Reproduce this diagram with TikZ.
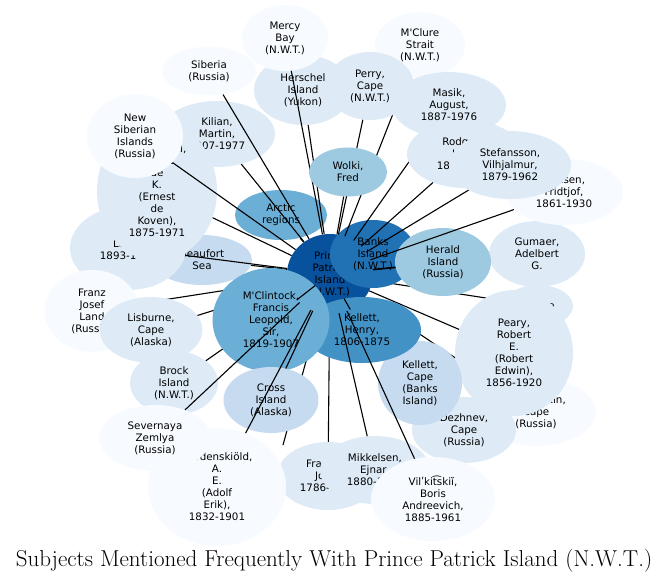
\documentclass[tikz,border=0pt]{standalone}
\usepackage{fontspec}
\usepackage{xcolor}
\usepackage{tikz}
\usetikzlibrary{shapes.geometric}
\newfontfamily\bubfont{DejaVu Sans}
\definecolor{deep}{HTML}{08519C}
\definecolor{strong}{HTML}{2171B5}
\definecolor{mid}{HTML}{4292C6}
\definecolor{soft}{HTML}{6BAED6}
\definecolor{pale}{HTML}{9ECAE1}
\definecolor{faint}{HTML}{C6DBEF}
\definecolor{mist}{HTML}{DEEBF7}
\definecolor{snow}{HTML}{F7FBFF}
\tikzset{
  bub/.style n args={3}{ellipse, inner sep=0pt, align=center, fill=#1,
    minimum width=#2, minimum height=#3, text=black,
    font=\bubfont\fontsize{10.3}{12}\selectfont},
  link/.style={draw=black, line width=1.1pt},
  caption/.style={anchor=base, font=\fontsize{23}{27}\selectfont}
}

\begin{document}
\begin{tikzpicture}[x=1pt, y=-1pt]
  \useasboundingbox (0,0) rectangle (668,582);
  % hub first, then each subject with its link (order gives the overlaps)
  \node[bub={deep}{86pt}{80pt}] (pp) at (330,274) {Prince\\Patrick\\Island\\(N.W.T.)};
  \node[bub={mist}{70pt}{42pt}] (alaska) at (538,306) {Alaska};
  \draw[link] (pp) -- (alaska);
  \node[bub={strong}{86pt}{68pt}] (banks) at (373,254) {Banks\\Island\\(N.W.T.)};
  \node[bub={soft}{92pt}{50pt}] (arctic) at (281,215) {Arctic\\regions};
  \draw[link] (pp) -- (arctic);
  \node[bub={mist}{116pt}{66pt}] (kilian) at (217,134) {Kilian,\\Martin,\\1907-1977};
  \draw[link] (pp) -- (kilian);
  \node[bub={faint}{100pt}{50pt}] (beaufort) at (202,260) {Beaufort\\Sea};
  \draw[link] (pp) -- (beaufort);
  \node[bub={mist}{116pt}{84pt}] (lo) at (128,248) {~\\Lo\phantom{uis,}\\1893-1\phantom{960}};
  \draw[link] (pp) -- (lo);
  \node[bub={mist}{120pt}{140pt}] (leffingwell) at (157,191) {Leffingwell,\\Ernest\\de\\K.\\(Ernest\\de\\Koven),\\1875-1971};
  \draw[link] (pp) -- (leffingwell);
  \node[bub={snow}{96pt}{84pt}] (newsib) at (135,136) {New\\Siberian\\Islands\\(Russia)};
  \draw[link] (pp) -- (newsib);
  \node[bub={snow}{94pt}{49pt}] (siberia) at (209,71) {Siberia\\(Russia)};
  \draw[link] (pp) -- (siberia);
  \node[bub={mist}{98pt}{70pt}] (herschel) at (303,90) {Herschel\\Island\\(Yukon)};
  \draw[link] (pp) -- (herschel);
  \node[bub={snow}{86pt}{66pt}] (mercy) at (285,38) {Mercy\\Bay\\(N.W.T.)};
  \draw[link] (pp) -- (mercy);
  \node[bub={snow}{90pt}{66pt}] (mclure) at (420,45) {M\textquotesingle Clure\\Strait\\(N.W.T.)};
  \draw[link] (pp) -- (mclure);
  \node[bub={mist}{88pt}{68pt}] (perry) at (370,86) {Perry,\\Cape\\(N.W.T.)};
  \draw[link] (pp) -- (perry);
  \node[bub={mist}{114pt}{66pt}] (masik) at (449,105) {Masik,\\August,\\1887-1976};
  \draw[link] (pp) -- (masik);
  \node[bub={pale}{78pt}{49pt}] (wolki) at (348,172) {Wolki,\\Fred};
  \draw[link] (pp) -- (wolki);
  \node[bub={mist}{116pt}{68pt}] (rodgers) at (465,154) {Rodgers,\\John,\\1812-1882};
  \draw[link] (pp) -- (rodgers);
  \node[bub={mist}{96pt}{66pt}] (gumaer) at (537,254) {Gumaer,\\Adelbert\\G.};
  \draw[link] (pp) -- (gumaer);
  \node[bub={pale}{96pt}{68pt}] (herald) at (443,262) {Herald\\Island\\(Russia)};
  \draw[link] (pp) -- (herald);
  \node[bub={snow}{118pt}{66pt}] (nansen) at (564,192) {Nansen,\\Fridtjof,\\1861-1930};
  \draw[link] (pp) -- (nansen);
  \node[bub={mist}{122pt}{68pt}] (stefansson) at (510,165) {Stefansson,\\Vilhjalmur,\\1879-1962};
  \draw[link] (pp) -- (stefansson);
  \node[bub={snow}{120pt}{68pt}] (chelyuskin) at (536,412) {Chelyuskin,\\Cape\\(Russia)};
  \draw[link] (pp) -- (chelyuskin);
  \node[bub={mist}{104pt}{66pt}] (dezhnev) at (464,430) {Dezhnev,\\Cape\\(Russia)};
  \draw[link] (pp) -- (dezhnev);
  \node[bub={mist}{118pt}{126pt}] (peary) at (514,353) {Peary,\\Robert\\E.\\(Robert\\Edwin),\\1856-1920};
  \draw[link] (pp) -- (peary);
  \node[bub={faint}{84pt}{84pt}] (kcape) at (420,383) {Kellett,\\Cape\\(Banks\\Island)};
  \draw[link] (pp) -- (kcape);
  \node[bub={mist}{102pt}{68pt}] (franklin) at (328,476) {Franklin,\\John,\\1786-1847};
  \draw[link] (pp) -- (franklin);
  \coordinate (lost) at (283,445); % its subject sits under the others
  \draw[link] (pp) -- (lost);
  \node[bub={mid}{118pt}{66pt}] (kellett) at (362,330) {Kellett,\\Henry,\\1806-1875};
  \draw[link] (pp) -- (kellett);
  \node[bub={snow}{95pt}{82pt}] (franz) at (92,311) {Franz\\Josef\\Land\\(Russia)};
  \draw[link] (pp) -- (franz);
  \node[bub={mist}{103pt}{66pt}] (lisburne) at (151,330) {Lisburne,\\Cape\\(Alaska)};
  \draw[link] (pp) -- (lisburne);
  \node[bub={mist}{88pt}{64pt}] (brock) at (174,383) {Brock\\Island\\(N.W.T.)};
  \draw[link] (pp) -- (brock);
  \node[bub={soft}{117pt}{104pt}] (mclintock) at (271,320) {M\textquotesingle Clintock,\\Francis\\Leopold,\\Sir,\\1819-1907};
  \draw[link] (pp) -- (mclintock);
  \node[bub={faint}{95pt}{66pt}] (cross) at (271,400) {Cross\\Island\\(Alaska)};
  \draw[link] (pp) -- (cross);
  \node[bub={snow}{138pt}{118pt}] (nord) at (217,487) {Nordenskiöld,\\A.\\E.\\(Adolf\\Erik),\\1832-1901};
  \draw[link] (pp) -- (nord);
  \node[bub={snow}{112pt}{66pt}] (severnaya) at (155,438) {Severnaya\\Zemlya\\(Russia)};
  \draw[link] (pp) -- (severnaya);
  \node[bub={mist}{110pt}{68pt}] (mikkelsen) at (375,470) {Mikkelsen,\\Ejnar,\\1880-1971};
  \draw[link] (pp) -- (mikkelsen);
  \node[bub={snow}{124pt}{84pt}] (vilkitskii) at (433,499) {Vilʹkit͡skiĭ,\\Boris\\Andreevich,\\1885-1961};
  \draw[link] (pp) -- (vilkitskii);
  \node[caption] (title) at (334,566) {Subjects Mentioned Frequently With Prince Patrick Island (N.W.T.)};
\end{tikzpicture}
\end{document}
